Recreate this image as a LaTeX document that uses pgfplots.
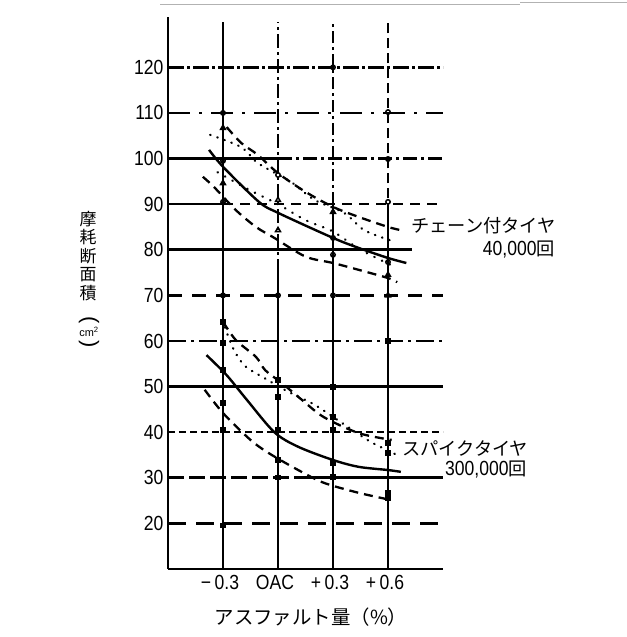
\documentclass[border=0pt]{standalone}
\usepackage{pgfplots}
\pgfplotsset{compat=1.18}
\usepackage{fontspec}
\setmainfont{Liberation Sans}
\newfontfamily\jp{Noto Sans CJK JP}
\newfontfamily\nf{Liberation Sans}[FakeStretch=0.86]
\begin{document}
\begin{tikzpicture}[x=1bp,y=1bp]
\path[use as bounding box] (-168,-68) rectangle (459,569);
\draw[gray!60, line width=0.8bp] (-8,565) -- (352,565);
\draw[gray!60, line width=0.8bp] (352,566.5) -- (459,566.5);
\begin{axis}[at={(0,0)}, anchor=south west, scale only axis,
  width=275bp, height=551.8bp,
  xmin=-0.6, xmax=0.9, ymin=10, ymax=131,
  axis x line*=bottom, axis y line*=left,
  axis line style={line width=2.8bp, black},
  major tick length=0pt,
  xtick={-0.3,0,0.3,0.6},
  xticklabels={−\,0.3, OAC, +\,0.3, +\,0.6},
  ytick={20,30,40,50,60,70,80,90,100,110,120},
  yticklabels={20,30,40,50,60,70,80,90,100,110,120},
  tick label style={font=\nf\fontsize{20.5}{20.5}\selectfont},
  yticklabel style={xshift=-1bp},
  xticklabel style={yshift=-3bp, xshift=-3bp},
  clip=false,
  every axis plot/.append style={black}]
% horizontal grid lines
\addplot[line width=2.6bp, dash pattern=on 16bp off 3bp on 3bp off 3bp] coordinates {(-0.6,120) (0.9,120)};
\addplot[line width=2.6bp, dash pattern=on 22bp off 9bp on 3bp off 9bp] coordinates {(-0.6,110) (0.9,110)};
\addplot[line width=2.6bp] coordinates {(-0.6,100) (0.0,100)};
\addplot[line width=2.6bp, dash pattern=on 14bp off 4bp on 3bp off 4bp] coordinates {(0.0,100) (0.9,100)};
\addplot[line width=2.6bp] coordinates {(-0.6,90) (-0.3,90)};
\addplot[line width=2.6bp, dash pattern=on 10bp off 7bp] coordinates {(-0.3,90) (0.9,90)};
\addplot[line width=2.6bp] coordinates {(-0.6,80) (0.73,80)};
\addplot[line width=2.6bp, dash pattern=on 14bp off 10bp] coordinates {(-0.6,70) (0.9,70)};
\addplot[line width=2.6bp, dash pattern=on 18bp off 5bp on 3bp off 5bp] coordinates {(-0.6,60) (0.9,60)};
\addplot[line width=2.6bp] coordinates {(-0.6,50) (0.9,50)};
\addplot[line width=2.6bp, dash pattern=on 7bp off 4bp] coordinates {(-0.6,40) (0.9,40)};
\addplot[line width=2.6bp, dash pattern=on 16bp off 5bp] coordinates {(-0.6,30) (0.15,30)};
\addplot[line width=2.6bp] coordinates {(0.15,30) (0.9,30)};
\addplot[line width=2.6bp, dash pattern=on 18bp off 10bp] coordinates {(-0.6,20) (0.9,20)};
% vertical grid lines
\addplot[line width=2.5bp] coordinates {(-0.3,10) (-0.3,130)};
\addplot[line width=2.5bp] coordinates {(0,10) (0,75)};
\addplot[line width=2.5bp, dash pattern=on 14bp off 4bp on 3bp off 4bp] coordinates {(0,75) (0,130)};
\addplot[line width=2.5bp] coordinates {(0.3,10) (0.3,90)};
\addplot[line width=2.5bp, dash pattern=on 12bp off 4bp on 3bp off 4bp] coordinates {(0.3,90) (0.3,130)};
\addplot[line width=2.5bp] coordinates {(0.6,10) (0.6,88)};
\addplot[line width=2.5bp, dash pattern=on 10bp off 5bp] coordinates {(0.6,88) (0.6,130)};
% chain tire group
\addplot[line width=2.4bp, smooth] coordinates {(-0.376,101.9) (-0.3,98.2) (-0.104,90.5) (0,88.1) (0.3,82.6) (0.44,80.4) (0.6,78.2) (0.7,77.1)};
\addplot[line width=2.3bp, smooth, dash pattern=on 9bp off 6bp] coordinates {(-0.28,106.9) (-0.2,103.4) (-0.11,100.8) (0,96.8) (0.15,92.7) (0.3,89.4) (0.44,87.2) (0.6,85.0) (0.67,84.3)};
\addplot[line width=2.3bp, smooth, dash pattern=on 9bp off 6bp] coordinates {(-0.41,96.0) (-0.35,93.8) (-0.23,88.7) (-0.12,85.0) (-0.02,82.6) (0.15,78.5) (0.3,77.1) (0.44,75.6) (0.6,73.8) (0.65,72.9)};
\addplot[line width=2.3bp, smooth, line cap=round, dash pattern=on 0.5bp off 7bp] coordinates {(-0.37,105.2) (-0.2,102.5) (-0.11,99) (0.07,94.9) (0.2,90.9) (0.36,88.1) (0.47,84.3) (0.61,82.1)};
\addplot[line width=2.3bp, smooth, line cap=round, dash pattern=on 0.5bp off 8bp] coordinates {(-0.33,97) (-0.15,93) (0,90) (0.15,86.5) (0.3,84) (0.45,80) (0.65,76)};
% spike tire group
\addplot[line width=2.4bp, smooth] coordinates {(-0.39,56.9) (-0.28,52.5) (-0.17,47.1) (-0.02,40.0) (0.11,36.8) (0.3,33.9) (0.44,32.4) (0.6,31.7) (0.67,31.3)};
\addplot[line width=2.3bp, smooth, dash pattern=on 9bp off 6bp] coordinates {(-0.3,64.2) (-0.23,60.2) (-0.12,56.5) (-0.07,53.6) (0.02,50.8) (0.13,47.1) (0.25,43.3) (0.44,39.8) (0.62,38.3)};
\addplot[line width=2.3bp, smooth, dash pattern=on 9bp off 6bp] coordinates {(-0.40,49.3) (-0.3,44.2) (-0.15,38.3) (-0.05,35.4) (0.11,31.7) (0.25,28.9) (0.44,26.7) (0.62,25.1)};
\addplot[line width=2.3bp, smooth, line cap=round, dash pattern=on 0.5bp off 7bp] coordinates {(-0.29,63) (-0.24,58) (-0.18,54.5) (-0.08,52) (0.05,49) (0.2,46) (0.35,42) (0.5,38) (0.65,35)};
% measured points
\addplot[only marks, mark=triangle, mark size=2.8bp, line width=1.5bp] coordinates {(-0.3,106.7) (-0.3,94.6) (0,90.9) (0,84.3) (0.3,88.3) (0.6,74.5) (0.6,70)};
\addplot[only marks, mark=o, mark size=2.2bp, line width=1.5bp] coordinates {(-0.3,99.5) (-0.3,90.5) (0,96.4) (0.3,82.6) (0.3,78.9) (0.6,90.5) (0.6,77.3) (0.6,99.9) (0.6,110.2) (0.3,120) (-0.3,70) (0,70) (0.3,70) (-0.3,110)};
\addplot[only marks, mark=square, mark size=2bp, line width=1.4bp] coordinates {(-0.3,64.2) (-0.3,59.6) (-0.3,53.6) (-0.3,46.4) (-0.3,40.5) (0,51.4) (0,47.7) (0,40.5) (0,33.9) (0.3,49.9) (0.3,43.3) (0.3,40.5) (0.3,33.2) (0.3,30.2) (0.6,37.6) (0.6,35.4) (0.6,26.7) (0.6,25.6) (-0.3,19.6) (0,30) (0.6,60)};
\end{axis}
% annotations
\node[anchor=west, font=\jp\fontsize{18.3}{18.3}\selectfont, inner sep=0] at (243,343) {チェーン付タイヤ};
\node[anchor=east, font=\nf\fontsize{20.5}{20.5}\selectfont, inner sep=0] at (387,319) {40,000{\jp\fontsize{18.3}{18.3}\selectfont 回}};
\node[anchor=west, font=\jp\fontsize{18.3}{18.3}\selectfont, inner sep=0] at (234,121) {スパイクタイヤ};
\node[anchor=east, font=\nf\fontsize{20.5}{20.5}\selectfont, inner sep=0] at (359,99) {300,000{\jp\fontsize{18.3}{18.3}\selectfont 回}};
\node[font=\jp\fontsize{19.5}{19.5}\selectfont, inner sep=0] at (143,-48) {アスファルト量（\%）};
\node[align=center, font=\jp\fontsize{17}{18.5}\selectfont, inner sep=0] at (-80,313) {摩\\耗\\断\\面\\積};
\node[rotate=-90, font=\fontsize{22}{22}\selectfont, inner sep=0] at (-79,249) {(};
\node[font=\fontsize{11}{11}\selectfont, inner sep=0] at (-79,237) {cm\textsuperscript{2}};
\node[rotate=-90, font=\fontsize{22}{22}\selectfont, inner sep=0] at (-79,225) {)};
\end{tikzpicture}
\end{document}
